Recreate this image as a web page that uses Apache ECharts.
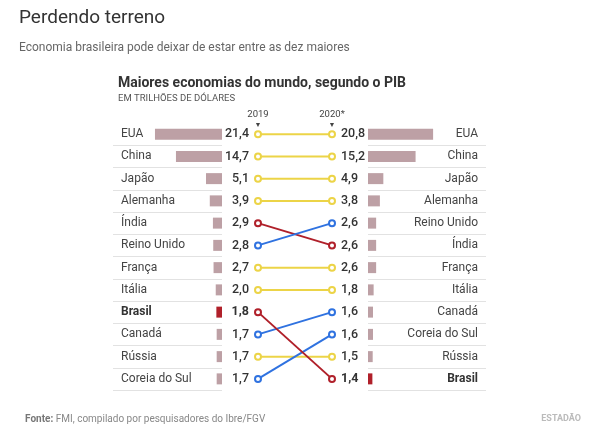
<!DOCTYPE html><html><head><meta charset="utf-8"><script src="https://cdn.jsdelivr.net/npm/echarts@6/dist/echarts.min.js"></script></head><body style="margin:0"><div id="c" style="width:600px;height:427px"></div><script>
const names2019=['EUA','China','Japão','Alemanha','Índia','Reino Unido','França','Itália','Brasil','Canadá','Rússia','Coreia do Sul'];
const values2019=[21.4,14.7,5.1,3.9,2.9,2.8,2.7,2.0,1.8,1.7,1.7,1.7];
const names2020=['EUA','China','Japão','Alemanha','Reino Unido','Índia','França','Itália','Canadá','Coreia do Sul','Rússia','Brasil'];
const values2020=[20.8,15.2,4.9,3.8,2.6,2.6,2.6,1.8,1.6,1.6,1.5,1.4];
const years=['2019','2020*'];
const RED='#b0202a',BLUE='#2f72e0',YEL='#ecd447',BAR='#bda0a5';
const fmt=v=>v.toFixed(1).replace('.',',');
const gTop=123,gH=267;
function barData(names,vals){return vals.map((v,i)=>({value:v,itemStyle:{color:names[i]==='Brasil'?RED:BAR}}));}
function lineColor(n){const a=names2019.indexOf(n)+1,b=names2020.indexOf(n)+1;return b===a?YEL:(b<a?BLUE:RED);}
const lines=names2019.map(n=>{const a=names2019.indexOf(n),b=names2020.indexOf(n);const bold=n==='Brasil'?'bold':500;return{type:'line',xAxisIndex:2,yAxisIndex:2,symbol:'emptyCircle',symbolSize:6,lineStyle:{width:2,color:lineColor(n)},itemStyle:{color:lineColor(n),borderWidth:1.5},z:n==='Brasil'?5:3,
data:[{value:[0,a],label:{show:true,position:'left',distance:5,formatter:fmt(values2019[a]),fontWeight:bold}},{value:[1,b],label:{show:true,position:'right',distance:5,formatter:fmt(values2020[b]),fontWeight:bold}}],
label:{color:'#333',fontSize:12.5,fontFamily:'Roboto'}};});
const split={show:true,interval:i=>i>0&&i<12,lineStyle:{color:'#e2e2e2'}};
const opt={animation:false,
title:[{text:'Perdendo terreno',left:14,top:4,textStyle:{fontSize:19,fontWeight:'normal',color:'#333',fontFamily:'Roboto'}},
{text:'Economia brasileira pode deixar de estar entre as dez maiores',left:14,top:37,textStyle:{fontSize:12,fontWeight:'normal',color:'#666',fontFamily:'Roboto'}},
{text:'Maiores economias do mundo, segundo o PIB',left:113,top:71,textStyle:{fontSize:14,fontWeight:'bold',color:'#333',fontFamily:'Roboto'}},
{text:'EM TRILHÕES DE DÓLARES',left:113,top:89,textStyle:{fontSize:9.5,fontWeight:'normal',color:'#555',fontFamily:'Roboto'}},
{text:'{b|Fonte:} FMI, compilado por pesquisadores do Ibre/FGV',left:20,top:409,textStyle:{fontSize:10,fontWeight:'normal',color:'#888',fontFamily:'Roboto',rich:{b:{fontWeight:'bold',color:'#777',fontSize:10}}}},
{text:'ESTADÃO',right:14,top:409,textStyle:{fontSize:9,fontWeight:'bold',color:'#bbb',fontFamily:'Roboto'}}],
grid:[{left:113,width:109,top:gTop,height:gH},{left:368,width:118,top:gTop,height:gH},{left:258,width:74,top:gTop,height:gH}],
xAxis:[{gridIndex:0,type:'value',inverse:true,min:0,max:34.8,show:false},{gridIndex:1,type:'value',min:0,max:37.7,show:false},
{gridIndex:2,type:'category',data:years,boundaryGap:false,position:'top',axisLine:{show:false},axisTick:{show:false},axisLabel:{interval:0,margin:-7,formatter:v=>'{a|'+v+'}\n{t|▼}',rich:{a:{fontSize:9.5,color:'#444',fontFamily:'Roboto',lineHeight:12},t:{fontSize:7,color:'#444',lineHeight:9}}},splitLine:{show:false}}],
yAxis:[{gridIndex:0,type:'category',data:names2019,inverse:true,position:'left',axisLine:{show:false},axisTick:{show:false},splitLine:split,axisLabel:{inside:true,interval:0,color:'#444',fontSize:12,fontFamily:'Roboto',formatter:v=>v==='Brasil'?'{b|Brasil}':v,rich:{b:{fontWeight:'bold',color:'#333',fontSize:12}}}},
{gridIndex:1,type:'category',data:names2020,inverse:true,position:'right',axisLine:{show:false},axisTick:{show:false},splitLine:split,axisLabel:{inside:true,interval:0,color:'#444',fontSize:12,fontFamily:'Roboto',formatter:v=>v==='Brasil'?'{b|Brasil}':v,rich:{b:{fontWeight:'bold',color:'#333',fontSize:12}}}},
{gridIndex:2,type:'value',inverse:true,min:-0.5,max:11.5,show:false}],
series:[{type:'bar',xAxisIndex:0,yAxisIndex:0,barWidth:11,data:barData(names2019,values2019)},{type:'bar',xAxisIndex:1,yAxisIndex:1,barWidth:11,data:barData(names2020,values2020)}].concat(lines)};
echarts.init(document.getElementById('c')).setOption(opt);
</script></body></html>
